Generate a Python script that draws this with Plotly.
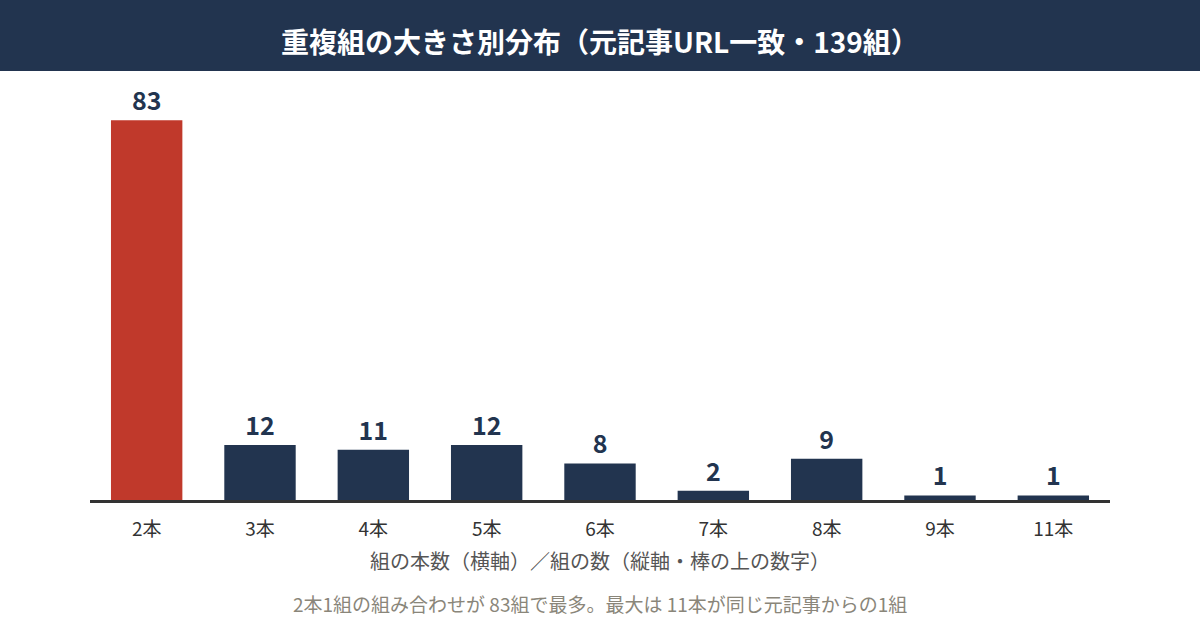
import plotly.graph_objects as go

categories = ["2本", "3本", "4本", "5本", "6本", "7本", "8本", "9本", "11本"]
counts = [83, 12, 11, 12, 8, 2, 9, 1, 1]
bar_colors = ["#c0392b"] + ["#22344f"] * 8

title_text = "重複組の大きさ別分布（元記事URL一致・139組）"
axis_note = "組の本数（横軸）／組の数（縦軸・棒の上の数字）"
footnote = "2本1組の組み合わせが 83組で最多。最大は 11本が同じ元記事からの1組"

FONT = "Noto Sans CJK JP"
W, H = 1200, 630
ML, MR, MT, MB = 90, 90, 90, 130
PW, PH = W - ML - MR, H - MT - MB

def py(px):
    return (H - MB - px) / PH

def pxx(px):
    return (px - ML) / PW

fig = go.Figure(go.Bar(
    x=categories, y=counts,
    marker=dict(color=bar_colors, line=dict(width=0)),
    text=[str(v) for v in counts],
    textposition="outside",
    textfont=dict(family=FONT, size=25, color="#22344f", weight="bold"),
    cliponaxis=False,
))

fig.update_layout(
    width=W, height=H,
    margin=dict(l=ML, r=MR, t=MT, b=MB),
    paper_bgcolor="white", plot_bgcolor="white",
    bargap=0.37,
    showlegend=False,
    font=dict(family=FONT),
    xaxis=dict(
        showline=True, linecolor="#333333", linewidth=2.5,
        showgrid=False, zeroline=False,
        ticks="outside", ticklen=10, tickcolor="rgba(0,0,0,0)",
        tickfont=dict(family=FONT, size=19, color="#333333"),
    ),
    yaxis=dict(range=[0, 89.6], visible=False, showgrid=False, zeroline=False),
    shapes=[dict(
        type="rect", xref="paper", yref="paper",
        x0=pxx(0), x1=pxx(W), y0=py(71), y1=py(0),
        fillcolor="#22344f", line=dict(width=0), layer="below",
    )],
    annotations=[
        dict(text=title_text, xref="paper", yref="paper", x=0.5, y=py(41),
             xanchor="center", yanchor="middle", showarrow=False,
             font=dict(family=FONT, size=28, color="white", weight="bold")),
        dict(text=axis_note, xref="paper", yref="paper", x=0.5, y=py(560),
             xanchor="center", yanchor="middle", showarrow=False,
             font=dict(family=FONT, size=20, color="#555555")),
        dict(text=footnote, xref="paper", yref="paper", x=0.5, y=py(603),
             xanchor="center", yanchor="middle", showarrow=False,
             font=dict(family=FONT, size=19, color="#8a867a")),
    ],
)

fig.write_html("out.html", config={"displayModeBar": False},
               post_script="document.body.style.margin='0';")
